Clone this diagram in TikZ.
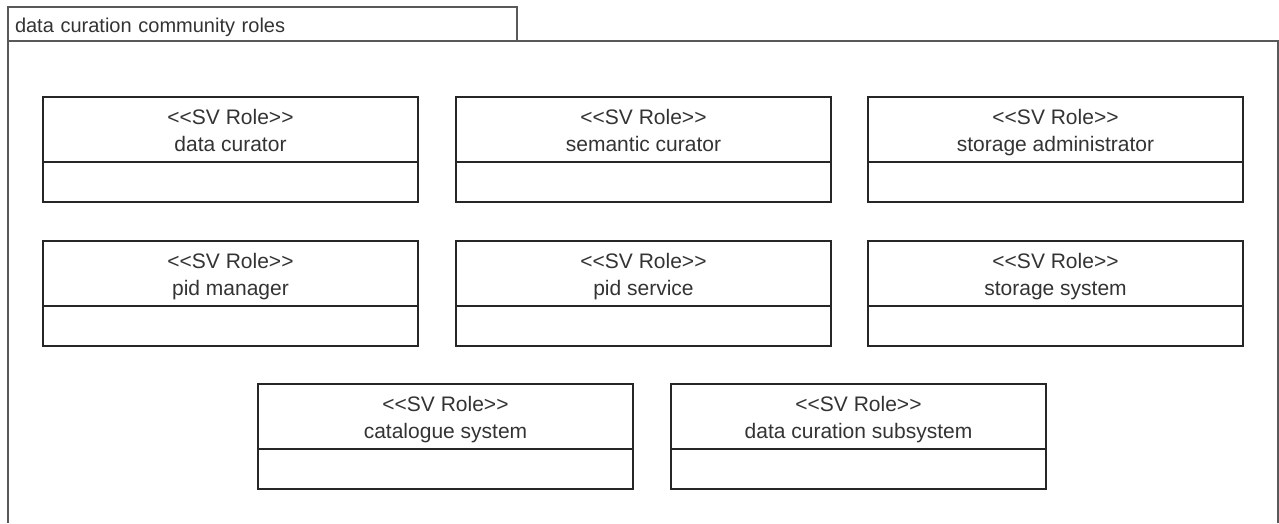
\documentclass[tikz,border=0pt]{standalone}
\usepackage{fontspec}
\setmainfont{Liberation Sans}
\usetikzlibrary{positioning}
\newcommand\svrole{<\kern0pt<SV Role>\kern0pt>}
\tikzset{
  roletop/.style={draw=black!85, line width=1.2pt, rectangle, outer sep=0pt,
    minimum width=375pt, minimum height=65pt, inner sep=0pt,
    label={[roletext]center:{\svrole\\#1}}},
  roletext/.style={align=center, inner sep=0pt, yshift=-1pt, text=black!80,
    font=\fontsize{21}{27}\selectfont, text depth=0pt},
  rolebody/.style={draw=black!85, line width=1.2pt, rectangle, outer sep=0pt,
    minimum width=375pt, minimum height=40pt, inner sep=0pt},
  pkg/.style={draw=black!65, line width=1.3pt}
}
\begin{document}
\begin{tikzpicture}[x=1pt,y=-1pt]
  \useasboundingbox (0,0) rectangle (1279,523);
  % package frame
  \node[pkg, rectangle, outer sep=0pt, anchor=north west, minimum width=509pt,
    minimum height=34pt, inner xsep=7pt, text width=495pt, align=left,
    text=black!80, font=\fontsize{20}{25}\selectfont, text height=17pt,
    text depth=1pt] (pkgtab) at (8,7)
    {data curation community roles};
  \draw[pkg] (8,523) -- (pkgtab.south west) -- (1278,41) -- (1278,523);
  % first row
  \node[roletop={data curator}, anchor=north west] (dcur) at (43,97) {};
  \node[roletop={semantic curator}, anchor=north west] (scur) at (456,97) {};
  \node[roletop={storage administrator}, anchor=north west] (sadm) at (868,97) {};
  % second row
  \node[roletop={pid manager}, anchor=north west] (pidm) at (43,241) {};
  \node[roletop={pid service}, anchor=north west] (pids) at (456,241) {};
  \node[roletop={storage system}, anchor=north west] (ssys) at (868,241) {};
  % third row
  \node[roletop={catalogue system}, anchor=north west] (csys) at (258,384) {};
  \node[roletop={data curation subsystem}, anchor=north west] (dsub) at (671,384) {};
  % empty compartments
  \foreach \r in {dcur,scur,sadm,pidm,pids,ssys,csys,dsub}
    \node[rolebody, below=0pt of \r] (\r-body) {};
\end{tikzpicture}
\end{document}
